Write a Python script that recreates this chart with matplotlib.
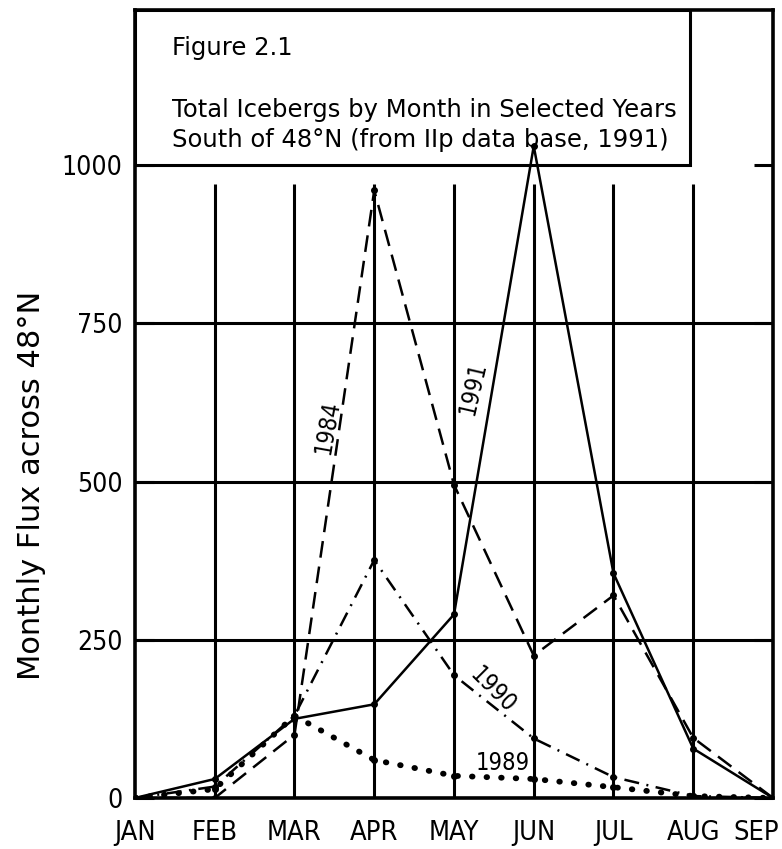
import matplotlib
matplotlib.use("Agg")
import matplotlib.pyplot as plt
import matplotlib.transforms as mtransforms
from matplotlib.patches import Rectangle


MONTHS = ["JAN", "FEB", "MAR", "APR", "MAY", "JUN", "JUL", "AUG", "SEP"]
FLUX_1984 = [0, 0, 100, 960, 495, 225, 320, 95, 0]
FLUX_1989 = [0, 14, 130, 60, 35, 30, 17, 3, 0]
FLUX_1990 = [0, 18, 130, 376, 194, 94, 33, 3, 0]
FLUX_1991 = [0, 30, 125, 148, 290, 1030, 355, 78, 0]
Y_TICKS = [0, 250, 500, 750, 1000]

plt.rcParams["font.family"] = ["DejaVu Sans"]
NARROW = dict(family="DejaVu Sans", stretch="condensed")

x = list(range(len(MONTHS)))

fig = plt.figure(figsize=(7.82, 8.49), dpi=100)
ax = fig.add_axes([0.1726, 0.0601, 0.8159, 0.9281])
ax.set_xlim(0, len(MONTHS) - 1)
ax.set_ylim(0, 1245)

# grid: full horizontal rules, vertical rules stop below the title box
for level in Y_TICKS[1:-1]:
    ax.axhline(level, color="black", lw=2.2, zorder=1)
ax.vlines(x[1:-1], 0, 970, color="black", lw=2.2, zorder=1)

common = dict(color="black", marker="o", markersize=4, zorder=6)
ax.plot(x, FLUX_1984, lw=1.8, linestyle=(0, (6.7, 3.6)), **common)
ax.plot(x, FLUX_1991, lw=1.8, linestyle="-", **common)
ax.plot(x, FLUX_1990, lw=1.8, linestyle=(0, (6, 3, 0.8, 3)), **common)
ax.plot(x, FLUX_1989, lw=4.2, linestyle=(0, (0.1, 2.4)), dash_capstyle="round",
        color="black", marker="o", markersize=4, zorder=6)

# year labels along the curves
label_font = dict(fontsize=17, ha="center", va="center", zorder=7, **NARROW)
ax.text(2.41, 586, "1984", rotation=80, **label_font)
ax.text(4.24, 648, "1991", rotation=77, **label_font)
ax.text(4.49, 171, "1990", rotation=-45, **label_font)
ax.text(4.61, 55, "1989", rotation=0, **label_font)

# title box in the upper left corner
trans = mtransforms.blended_transform_factory(ax.transAxes, ax.transData)
ax.add_patch(Rectangle((0, 1000), 0.87, 245, transform=trans, fill=True,
                       facecolor="white", edgecolor="black", lw=2.2, zorder=5))
title_font = dict(transform=ax.transAxes, fontsize=17.5, ha="left", va="center", zorder=8)
ax.text(0.058, 0.952, "Figure 2.1", **title_font)
ax.text(0.058, 0.873, "Total Icebergs by Month in Selected Years", **title_font)
ax.text(0.058, 0.835, "South of 48\u00b0N (from IIp data base, 1991)", **title_font)

ax.set_xticks(x)
ax.set_xticklabels(MONTHS, fontsize=19.5, **NARROW)
ax.set_yticks(Y_TICKS)
ax.set_yticklabels([str(v) for v in Y_TICKS], fontsize=19, **NARROW)
ax.tick_params(axis="x", length=0, pad=16)
ax.tick_params(axis="y", direction="in", length=14, width=2.2, pad=9,
               left=True, right=True)
last = ax.get_xticklabels()[-1]
last.set_transform(last.get_transform()
                   + mtransforms.ScaledTranslation(-12 / 72, 0, fig.dpi_scale_trans))
for spine in ax.spines.values():
    spine.set_linewidth(2.6)

fig.text(0.04, 0.428, "Monthly Flux across 48\u00b0N", rotation=90,
         fontsize=22, ha="center", va="center")

fig.savefig("out.png", dpi=100)
